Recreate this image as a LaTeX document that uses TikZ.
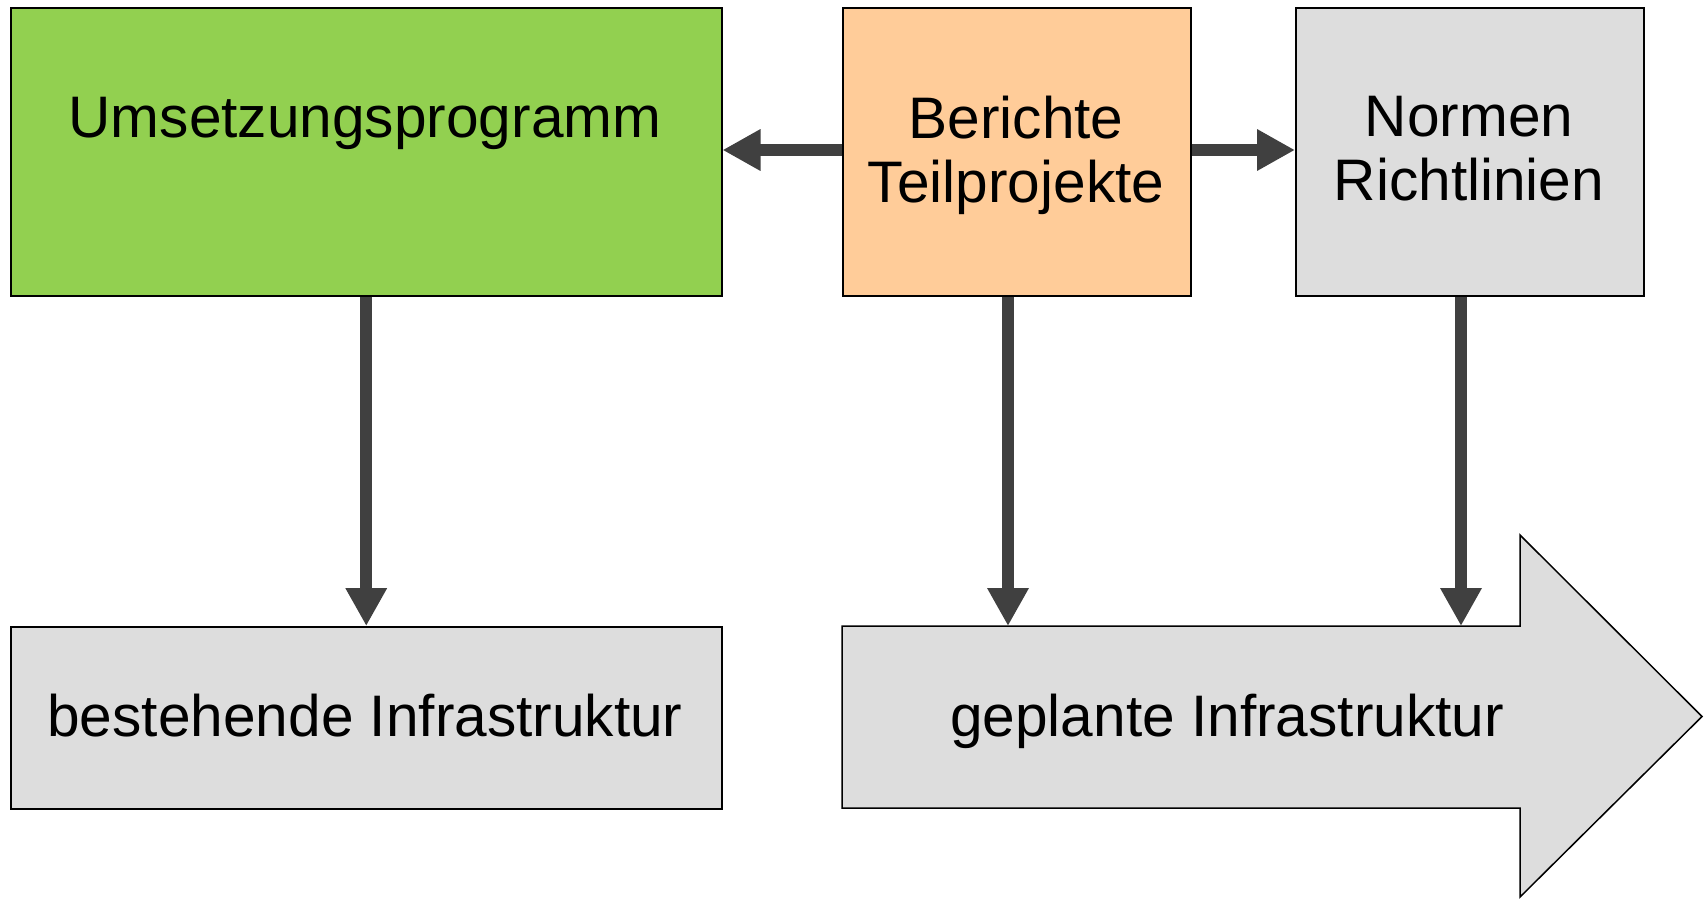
\documentclass[tikz,border=0pt]{standalone}
\usepackage{fontspec}
\setmainfont{Liberation Sans}
\usetikzlibrary{arrows.meta}
\definecolor{boxgreen}{HTML}{92D050}
\definecolor{boxorange}{HTML}{FFCC99}
\definecolor{boxgray}{HTML}{DDDDDD}
\definecolor{arrowgray}{HTML}{404040}
\newcommand{\bigtext}{\fontsize{58.6}{64}\selectfont}
\begin{document}
\begin{tikzpicture}[x=1pt,y=-1pt,
  box/.style={draw=black,line width=1.5pt,rectangle,anchor=north west,inner sep=0pt},
  txt/.style={font=\bigtext,inner sep=0pt,align=center,text=black},
  conn/.style={draw=arrowgray,line width=12pt,-{Triangle[length=38pt,width=39pt]}}]
\useasboundingbox[fill=white] (0,0) rectangle (1705,898);
% boxes
\node[box,fill=boxgreen,minimum width=711pt,minimum height=288pt] (umsetz) at (10,7) {};
\node[box,fill=boxorange,minimum width=348pt,minimum height=288pt] (berichte) at (842,7) {};
\node[box,fill=boxgray,minimum width=348pt,minimum height=288pt] (normen) at (1295,7) {};
\node[box,fill=boxgray,minimum width=711pt,minimum height=182pt] (bestehend) at (10,626) {};
% big arrow
\coordinate (ga) at (842,626);
\coordinate (gb) at (1520,626);
\coordinate (gc) at (1520,535);
\coordinate (gtip) at (1702,716.5);
\coordinate (gd) at (1520,897);
\coordinate (ge) at (1520,808);
\coordinate (gf) at (842,808);
\draw[fill=boxgray,line width=1.5pt,line join=miter] (ga) -- (gb) -- (gc) -- (gtip) -- (gd) -- (ge) -- (gf) -- cycle;
\coordinate (gtop1) at (1008,626);
\coordinate (gtop2) at (1461,626);
% texts
\node[txt,anchor=base] (t1) at (365,137) {Umsetzungsprogramm};
\node[txt,anchor=north] (t2) at (1016,95.5) {Berichte\\Teilprojekte};
\node[txt,anchor=north] (t3) at (1469,95.5) {Normen\\Richtlinien};
\node[txt,anchor=base] (t4) at (365,736) {bestehende Infrastruktur};
\node[txt,anchor=base] (t5) at (1227,736) {geplante Infrastruktur};
% connectors
\draw[conn] (berichte.west |- 0,150) -- (umsetz.east |- 0,150);
\draw[conn] (berichte.east |- 0,150) -- (normen.west |- 0,150);
\draw[conn] (umsetz.south) -- (bestehend.north);
\draw[conn] (berichte.south -| gtop1) -- (gtop1);
\draw[conn] (normen.south -| gtop2) -- (gtop2);
\end{tikzpicture}
\end{document}
